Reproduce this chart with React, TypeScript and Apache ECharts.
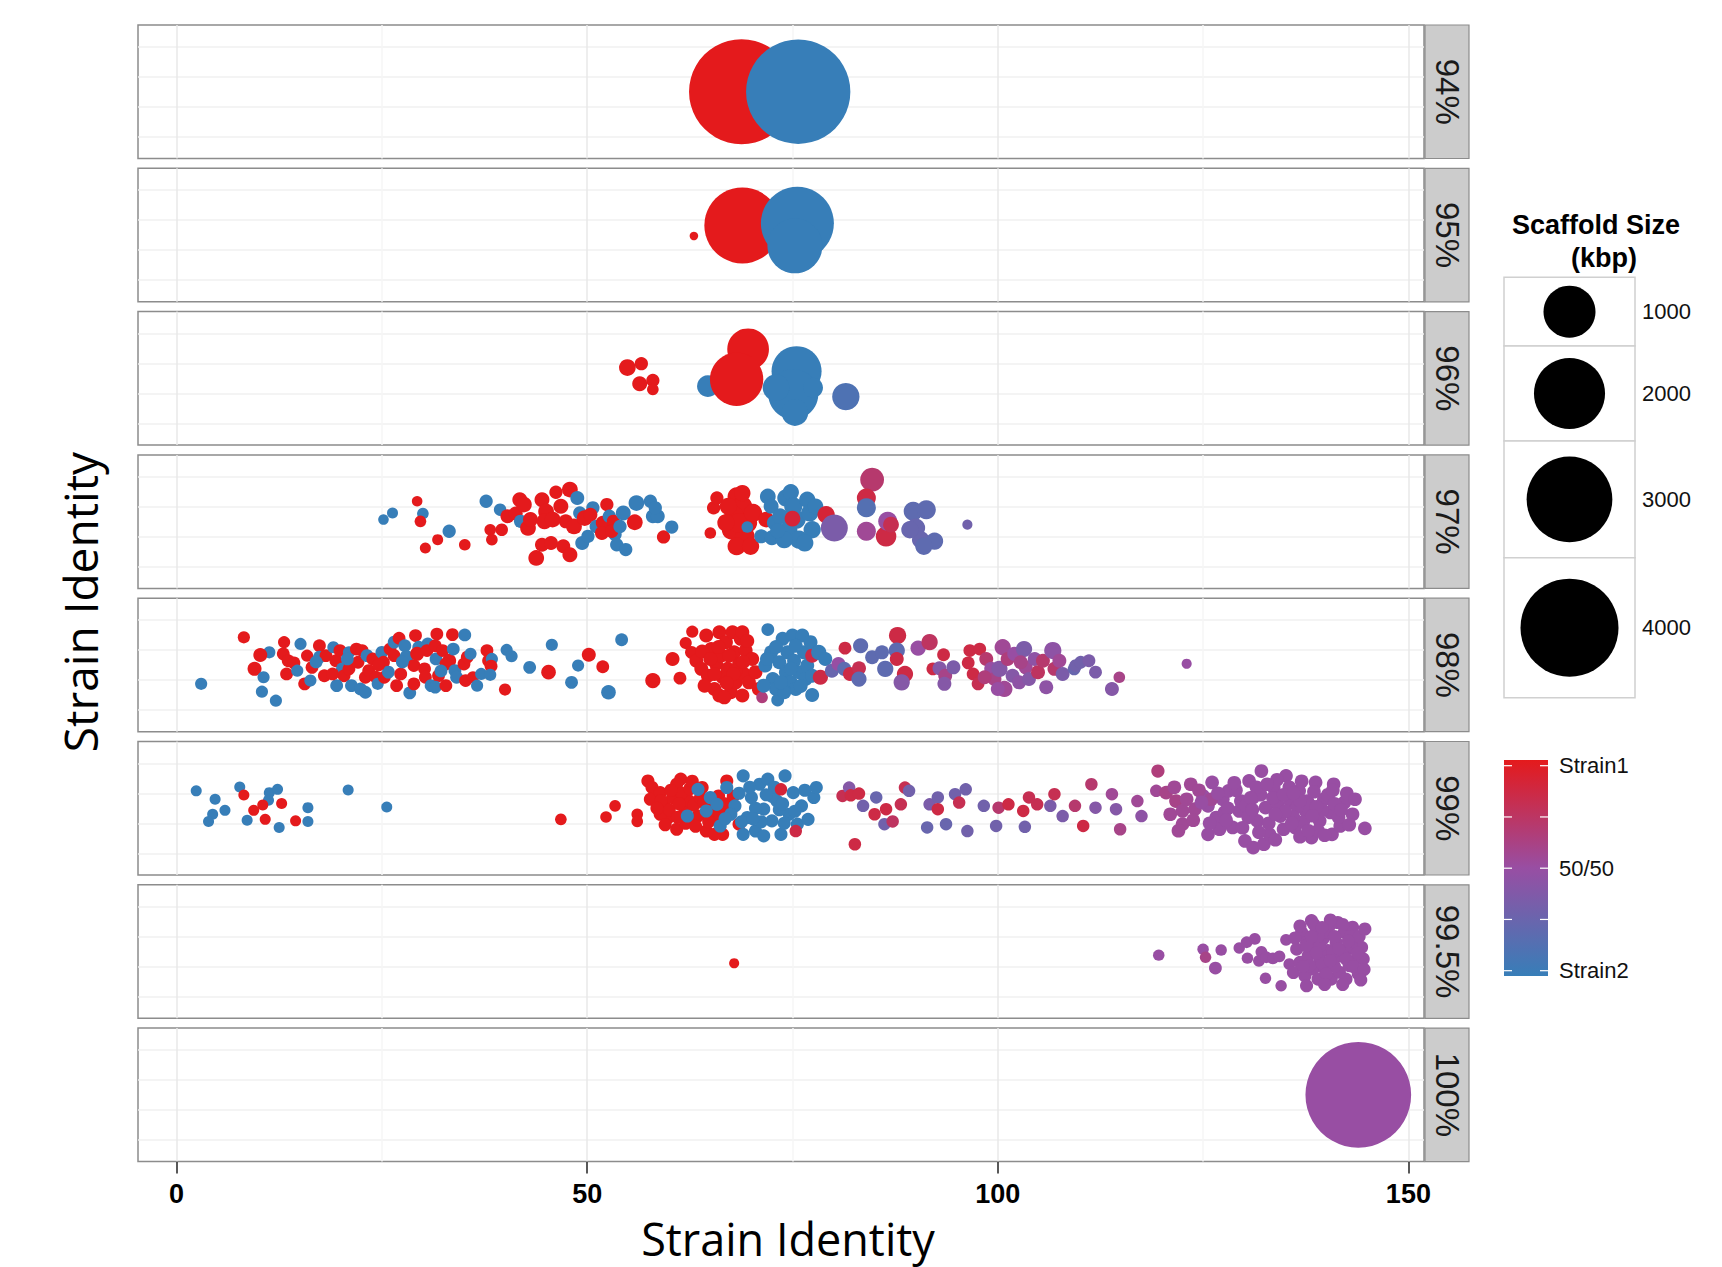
import React, { useEffect, useRef } from 'react';
import * as echarts from 'echarts';

// ---------- data ----------
const panelLabels = ['94%', '95%', '96%', '97%', '98%', '99%', '99.5%', '100%'];
const xTicks = [0, 50, 100, 150];
const xMinorGrid = [25, 75, 125];
const yGridLines = [-1.5, -0.5, 0.5, 1.5];
const sizeBreaks = [1000, 2000, 3000, 4000];
const colorBreaks = [1, 0.75, 0.5, 0.25, 0];
const colorLabels = ['Strain1', '50/50', 'Strain2'];
const colorLabelValues = [1, 0.5, 0];

// each point: [x (strain identity), y (jitter), scaffold size (kbp), share of Strain1 (1 = Strain1, 0 = Strain2)]
const p94 = [[68.8, 0, 4630, 1], [75.7, 0, 4565, 0]];

const p95 = [[63.0, -0.03, 3, 1], [68.9, 0.32, 2315, 1], [75.6, 0.39, 2120, 0], [75.3, -0.36, 1134, 0]];

const p96 = [
  [54.9, 0.36, 54, 1], [56.6, 0.49, 25, 1], [56.4, -0.18, 38, 1], [58.0, -0.07, 25, 1], [58.0, -0.37, 15, 1],
  [64.7, -0.26, 116, 0], [69.6, 0.97, 602, 1], [68.2, -0.03, 1057, 1],
  [75.5, 0.24, 915, 0], [75.1, -0.53, 915, 0], [75.3, -1.14, 202, 0], [73.0, -0.31, 202, 0], [77.5, -0.31, 92, 0],
  [81.5, -0.61, 215, 0.12],
];

const p97 = [
  [25.2, 0.07, 10, 0], [26.3, 0.29, 12, 0], [29.3, 0.68, 10, 1], [30.0, 0.27, 15, 0], [29.7, 0.01, 15, 1], [30.3, -0.88, 12, 1],
  [31.8, -0.6, 12, 1], [33.2, -0.32, 25, 0], [35.1, -0.77, 15, 1], [37.7, 0.68, 25, 0], [38.2, -0.27, 15, 1], [38.4, -0.6, 15, 1],
  [39.6, -0.27, 20, 1], [39.4, 0.4, 20, 0], [40.3, 0.18, 30, 1], [41.3, 0.27, 30, 1], [41.8, 0.73, 38, 1], [42.3, 0.57, 45, 1],
  [41.9, 0.01, 25, 0], [42.8, -0.21, 45, 1], [43.1, 0.07, 38, 1], [43.8, -1.21, 45, 1], [44.5, 0.73, 38, 1], [45.0, 0.34, 45, 1],
  [44.8, 0.01, 45, 1], [44.5, -0.77, 30, 1], [45.6, -0.71, 30, 1], [46.2, 0.98, 25, 1], [46.8, 0.51, 38, 1], [47.1, -0.82, 30, 1],
  [47.9, 1.07, 45, 1], [48.8, 0.79, 30, 0], [47.9, -1.1, 38, 1], [47.4, 0.01, 30, 1], [45.8, 0.07, 45, 1], [48.4, -0.16, 45, 1],
  [49.1, 0.29, 25, 0], [49.7, 0.12, 45, 1], [49.4, -0.71, 30, 0], [50.1, -0.49, 25, 0], [50.7, 0.46, 25, 0], [50.4, 0.23, 30, 1],
  [51.1, -0.16, 25, 0], [51.9, -0.04, 30, 1], [52.4, 0.57, 25, 1], [52.7, 0.18, 25, 0], [53.2, 0.01, 25, 1], [51.8, -0.38, 30, 1],
  [53.4, -0.43, 25, 0], [53.0, -0.32, 25, 1], [53.6, -0.77, 25, 0], [54.7, -0.93, 25, 0], [54.0, -0.16, 25, 0], [54.4, 0.29, 38, 0],
  [55.8, -0.02, 45, 1], [56.0, 0.62, 45, 0], [57.7, 0.68, 25, 0], [58.0, 0.18, 30, 0], [58.6, 0.18, 30, 0], [58.3, 0.46, 25, 0],
  [59.3, -0.51, 25, 1], [60.3, -0.18, 25, 0],
  [65.0, -0.38, 15, 1], [65.4, 0.46, 25, 1], [65.8, 0.79, 25, 1],
  [68.2, 0.84, 70, 1], [68.9, 0.51, 90, 1], [67.9, 0.18, 90, 1], [69.5, -0.04, 90, 1], [67.6, -0.27, 90, 1], [69.2, -0.49, 90, 1],
  [68.2, -0.82, 70, 1], [69.9, -0.82, 60, 1], [68.5, -0.04, 90, 1], [70.2, 0.29, 70, 1], [67.2, 0.51, 60, 1], [66.9, -0.04, 60, 1],
  [68.9, 0.95, 50, 1], [69.5, -0.18, 15, 0], [71.8, 0.07, 45, 1],
  [71.2, -0.49, 30, 0], [72.0, 0.84, 45, 0], [72.4, 0.51, 38, 0], [72.5, -0.54, 38, 0], [72.8, -0.04, 38, 0], [74.2, 0.79, 60, 0],
  [74.8, 0.98, 50, 0], [75.1, 0.51, 70, 0], [75.5, 0.07, 70, 0], [74.5, -0.27, 70, 0], [75.8, -0.6, 70, 0], [76.8, 0.73, 50, 0],
  [77.1, 0.29, 60, 0], [77.4, -0.27, 60, 0], [76.5, -0.71, 60, 0], [77.8, 0.51, 45, 0], [73.5, 0.18, 45, 0], [74.0, -0.6, 60, 0],
  [73.2, -0.3, 38, 0],
  [75.0, 0.1, 45, 0.9], [79.1, 0.23, 60, 0.9], [80.1, -0.21, 208, 0.35], [84.7, 1.4, 150, 0.7], [84.0, 0.79, 80, 0.85],
  [84.0, 0.46, 80, 0.15], [84.0, -0.32, 80, 0.55], [86.4, -0.49, 100, 0.85], [86.6, 0.01, 80, 0.5], [87.0, -0.1, 45, 0.8],
  [89.7, 0.35, 80, 0.2], [91.3, 0.4, 80, 0.2], [90.0, -0.21, 80, 0.25], [90.6, -0.6, 60, 0.25], [92.3, -0.65, 60, 0.2],
  [91.0, -0.82, 60, 0.2], [89.3, -0.27, 60, 0.25], [96.3, -0.1, 8, 0.3],
];

const p98 = [
  [3.0, -0.63, 18, 0], [8.2, 0.92, 18, 1], [11.3, 0.42, 18, 0], [10.2, 0.33, 30, 1], [9.5, -0.13, 30, 1], [10.6, -0.41, 18, 0],
  [10.4, -0.89, 18, 0], [12.1, -1.19, 18, 0], [13.1, 0.76, 18, 1], [13.0, 0.37, 22, 1], [15.1, 0.7, 18, 0], [13.6, 0.14, 22, 1],
  [13.4, -0.3, 22, 1], [14.3, 0.07, 22, 1], [14.7, -0.19, 18, 0], [15.6, -0.63, 22, 1], [15.9, 0.31, 18, 1], [17.4, 0.64, 22, 1],
  [16.3, -0.52, 18, 0], [16.5, -0.08, 22, 1], [17.4, 0.26, 22, 0], [18.0, -0.36, 22, 1], [18.2, 0.31, 22, 1], [19.1, 0.59, 18, 0],
  [19.4, 0.14, 22, 1], [19.9, 0.48, 22, 1], [20.2, -0.13, 22, 0], [20.4, -0.36, 22, 1], [19.5, -0.69, 22, 0], [21.0, 0.42, 18, 0],
  [21.3, -0.69, 22, 0], [21.0, -0.13, 22, 1], [21.9, 0.53, 22, 1], [22.1, 0.09, 22, 1], [22.6, 0.48, 22, 1], [22.4, -0.8, 22, 0],
  [23.0, -0.91, 22, 0], [23.0, -0.41, 22, 1], [23.2, 0.31, 22, 0], [23.9, 0.2, 22, 1], [23.4, -0.19, 22, 1], [24.3, -0.41, 22, 1],
  [24.5, -0.63, 18, 0], [25.0, 0.42, 22, 0], [25.2, 0.09, 22, 1], [25.3, -0.41, 22, 1], [25.8, -0.24, 22, 0], [26.0, 0.53, 22, 1],
  [26.5, 0.31, 22, 1], [26.5, 0.76, 22, 0], [27.1, 0.89, 22, 1], [26.8, -0.69, 22, 1], [27.3, -0.3, 22, 1], [27.8, 0.64, 22, 0],
  [28.0, 0.26, 30, 0], [28.4, -0.93, 22, 0], [28.9, -0.02, 22, 1], [29.1, 0.98, 22, 1], [29.5, 0.59, 22, 0], [29.3, 0.37, 30, 1],
  [28.9, -0.63, 22, 1], [30.2, -0.13, 22, 1], [30.6, 0.7, 22, 0], [30.5, 0.48, 22, 1], [30.3, -0.41, 22, 1], [31.0, -0.69, 22, 0],
  [31.7, 1.03, 22, 1], [31.5, 0.64, 22, 1], [31.6, 0.2, 22, 0], [31.9, -0.36, 22, 1], [31.5, -0.74, 22, 0], [32.4, 0.48, 22, 1],
  [32.8, -0.69, 22, 1], [33.2, 0.14, 30, 1], [33.7, 0.53, 22, 0], [33.6, 1.01, 22, 1], [32.8, 0.03, 22, 1], [33.9, -0.19, 22, 0],
  [34.1, -0.41, 22, 0], [35.0, 0.03, 22, 1], [35.1, 1.0, 22, 0], [35.4, 0.26, 22, 1], [35.2, -0.52, 22, 1], [35.8, 0.37, 18, 0],
  [36.1, -0.41, 18, 1], [36.6, -0.69, 18, 0], [37.8, 0.48, 22, 1], [37.1, -0.3, 18, 0], [38.0, 0.14, 22, 1], [38.4, 0.2, 18, 0],
  [38.3, -0.04, 22, 1], [38.2, -0.33, 18, 0], [40.0, -0.82, 18, 1], [40.2, 0.5, 18, 0], [40.8, 0.29, 18, 0], [43.0, -0.08, 22, 0],
  [45.7, 0.67, 18, 0], [45.3, -0.24, 35, 1], [48.9, -0.02, 18, 0], [48.1, -0.58, 22, 0], [50.2, 0.34, 30, 1], [54.2, 0.84, 22, 0],
  [52.6, -0.91, 35, 0], [51.9, -0.06, 22, 1], [58.0, -0.52, 40, 1],
  [17.0, 0.1, 22, 0], [20.8, 0.2, 22, 0], [24.6, 0.0, 22, 1], [27.5, 0.1, 22, 0], [19.0, -0.3, 22, 1], [32.2, -0.2, 22, 0],
  [61.3, -0.44, 22, 1], [60.4, 0.2, 30, 1], [62.0, 0.73, 18, 1], [62.8, 1.11, 18, 1], [62.7, 0.42, 22, 1],
  [63.3, 0.14, 30, 1], [63.9, -0.13, 30, 1], [64.5, 0.98, 30, 1], [64.7, -0.36, 30, 1], [65.1, 0.53, 30, 1], [65.5, -0.8, 30, 1],
  [65.7, 0.03, 30, 1], [66.1, 1.09, 30, 1], [66.3, 0.31, 30, 1], [66.5, -0.41, 30, 1], [66.9, 0.76, 30, 1], [67.1, -0.13, 30, 1],
  [67.5, -0.91, 30, 1], [67.7, 1.09, 30, 1], [67.9, 0.42, 30, 1], [68.1, -0.58, 30, 1], [68.5, 0.03, 30, 1], [68.7, 0.87, 30, 1],
  [68.9, -1.02, 30, 1], [69.1, -0.3, 30, 1], [69.3, 0.48, 30, 1], [69.7, -0.58, 30, 1], [70.1, 0.2, 30, 1], [70.5, -0.24, 30, 1],
  [70.9, -0.8, 30, 1], [66.1, -1.02, 30, 1], [64.3, -0.69, 30, 1], [67.3, 0.31, 30, 1], [66.7, -1.08, 30, 1], [68.1, -0.19, 30, 1],
  [65.5, -0.3, 30, 1], [68.9, 1.09, 30, 1], [64.0, 0.45, 30, 1], [66.0, 0.6, 30, 1], [67.8, -0.3, 30, 1], [69.5, 0.8, 30, 1],
  [65.0, 0.2, 30, 1], [67.0, -0.6, 30, 1], [69.0, 0.1, 30, 1],
  [72.0, 1.18, 22, 0], [71.3, -1.08, 15, 0.65], [73.2, -1.17, 22, 0], [77.4, -1.0, 30, 0],
  [71.7, -0.02, 30, 0], [72.4, 0.42, 30, 0], [72.6, -0.47, 30, 0], [73.0, -0.8, 30, 0], [73.4, 0.09, 30, 0], [73.8, 0.87, 30, 0],
  [74.2, -0.24, 30, 0], [74.4, 0.42, 30, 0], [74.8, -0.58, 30, 0], [75.0, 0.98, 30, 0], [75.2, 0.14, 30, 0], [75.4, -0.8, 30, 0],
  [75.8, -0.24, 30, 0], [76.2, 0.98, 30, 0], [76.4, 0.42, 30, 0], [76.6, -0.47, 30, 0], [76.8, -0.02, 30, 0], [77.2, 0.76, 30, 0],
  [77.4, -0.36, 30, 0], [74.0, -0.91, 30, 0], [71.5, -0.69, 30, 0], [71.9, 0.2, 30, 0], [73.6, -0.58, 30, 0], [75.4, 0.64, 30, 0],
  [74.8, -0.13, 30, 0], [73.0, 0.6, 30, 0], [76.0, -0.7, 30, 0],
  [77.4, 0.31, 30, 0.85], [78.4, -0.41, 40, 0.85], [78.2, 0.42, 40, 0], [79.0, 0.2, 30, 0], [79.8, -0.19, 30, 0.25],
  [80.6, 0.03, 30, 0.5], [81.3, -0.13, 30, 0.2], [81.4, 0.56, 22, 0.85], [82.0, -0.3, 30, 0.85], [83.1, -0.11, 30, 0.8],
  [83.3, 0.64, 40, 0.2], [83.1, -0.47, 40, 0.2], [84.7, 0.26, 30, 0.2], [85.9, 0.42, 30, 0.2], [86.3, -0.13, 50, 0.2],
  [87.8, 0.98, 60, 0.85], [87.7, 0.48, 50, 0.2], [87.7, 0.2, 30, 0.85], [88.7, -0.3, 50, 0.85], [88.3, -0.58, 50, 0.4],
  [90.3, 0.56, 40, 0.5], [91.7, 0.76, 50, 0.75], [93.4, 0.34, 22, 0.85], [92.1, -0.13, 22, 0.85], [92.9, -0.11, 30, 0.4],
  [93.6, -0.36, 30, 0.6], [94.6, -0.08, 30, 0.35], [93.5, -0.63, 30, 0.4], [96.6, 0.48, 22, 0.85], [97.8, 0.53, 22, 0.85],
  [96.4, 0.07, 22, 0.85], [97.0, -0.3, 22, 0.85], [97.6, -0.63, 22, 0.8],
  [98.6, 0.2, 30, 0.7], [99.2, -0.13, 30, 0.5], [99.6, -0.47, 30, 0.6], [100.2, -0.13, 50, 0.4], [100.6, 0.59, 50, 0.55],
  [100.8, -0.8, 50, 0.55], [101.2, 0.2, 30, 0.65], [101.8, -0.36, 30, 0.4], [102.0, 0.37, 30, 0.5], [102.6, -0.58, 30, 0.45],
  [103.2, 0.53, 50, 0.35], [103.4, -0.08, 30, 0.55], [103.8, -0.47, 30, 0.4], [104.5, 0.2, 30, 0.45], [104.9, -0.24, 30, 0.75],
  [105.5, 0.14, 30, 0.7], [105.9, -0.74, 30, 0.45], [106.7, 0.48, 60, 0.45], [106.9, -0.13, 30, 0.7], [107.5, 0.14, 30, 0.55],
  [107.9, -0.3, 30, 0.35], [100.0, -0.8, 30, 0.5], [102.8, 0.09, 30, 0.6], [98.4, -0.41, 30, 0.65],
  [109.3, -0.13, 22, 0.25], [109.5, -0.02, 22, 0.3], [110.1, 0.09, 22, 0.3], [111.1, 0.14, 22, 0.35], [111.9, -0.24, 22, 0.35],
  [113.9, -0.8, 30, 0.4], [114.8, -0.41, 15, 0.6], [123.0, 0.04, 8, 0.5],
];

const p99 = [
  [2.4, 0.58, 12, 0], [4.7, 0.3, 12, 0], [4.4, -0.2, 12, 0], [3.9, -0.44, 12, 0], [5.9, -0.07, 12, 0], [7.7, 0.71, 12, 0],
  [8.2, 0.44, 12, 1], [11.3, 0.52, 12, 0], [12.3, 0.63, 12, 0], [11.2, 0.27, 12, 0], [10.5, 0.11, 12, 1], [9.4, -0.07, 12, 1],
  [12.8, 0.16, 12, 1], [8.6, -0.4, 12, 0], [10.8, -0.37, 12, 1], [14.5, -0.42, 12, 1], [16.0, -0.44, 12, 0], [16.0, 0.02, 12, 0],
  [12.5, -0.64, 12, 0], [20.9, 0.61, 12, 0], [25.6, 0.04, 12, 0],
  [46.8, -0.37, 15, 1], [52.3, -0.29, 15, 1], [53.4, 0.08, 15, 1], [56.1, -0.2, 15, 1], [56.1, -0.44, 15, 1],
  [57.4, 0.91, 24, 1], [57.9, 0.69, 24, 1], [57.7, 0.3, 24, 1], [58.9, 0.52, 24, 1], [59.4, 0.08, 24, 1], [59.9, -0.31, 24, 1],
  [60.4, 0.36, 24, 1], [60.9, -0.7, 24, 1], [61.4, 0.97, 24, 1], [61.9, -0.09, 24, 1], [62.4, 0.24, 24, 1], [62.9, -0.48, 24, 1],
  [64.0, 0.69, 24, 1], [64.5, -0.76, 24, 1], [65.0, 0.02, 24, 1], [65.5, -0.31, 24, 1], [66.0, 0.41, 24, 1], [66.5, -0.87, 24, 1],
  [67.0, 0.91, 24, 1], [67.5, -0.09, 24, 1], [68.5, -0.53, 24, 1], [65.5, -0.87, 24, 1], [63.5, -0.26, 24, 1], [60.9, 0.8, 24, 1],
  [58.9, -0.2, 24, 1], [60.0, -0.05, 24, 1], [61.5, 0.5, 24, 1], [63.0, 0.1, 24, 1], [62.0, -0.5, 24, 1], [59.0, 0.25, 24, 1],
  [61.0, -0.3, 24, 1], [63.8, 0.35, 24, 1], [64.8, -0.45, 24, 1], [62.5, 0.65, 24, 1], [60.2, 0.6, 24, 1], [66.8, 0.15, 24, 1],
  [58.5, 0.0, 24, 1], [61.2, 0.15, 24, 1], [63.2, -0.6, 24, 1], [64.2, 0.2, 24, 1], [66.2, -0.2, 24, 1], [67.8, 0.4, 24, 1],
  [59.5, -0.55, 24, 1], [62.8, 0.9, 24, 1],
  [62.2, -0.26, 24, 0], [63.5, 0.63, 24, 0], [65.0, 0.36, 24, 0], [66.2, -0.59, 24, 0], [67.0, 0.69, 24, 0], [68.0, 0.08, 24, 0],
  [69.0, 1.08, 24, 0], [69.5, -0.31, 24, 0], [70.0, 0.36, 24, 0], [70.5, -0.76, 24, 0], [71.0, 0.8, 24, 0], [71.5, -0.03, 24, 0],
  [72.0, 0.97, 24, 0], [72.5, -0.42, 24, 0], [73.1, 0.24, 24, 0], [73.6, -0.87, 24, 0], [74.1, 1.08, 24, 0], [74.6, -0.2, 24, 0],
  [75.1, 0.52, 24, 0], [75.6, -0.53, 24, 0], [76.1, 0.08, 24, 0], [76.9, -0.37, 24, 0], [77.6, 0.36, 24, 0], [77.9, 0.69, 24, 0],
  [69.0, -0.87, 24, 0], [71.5, -0.92, 24, 0], [64.5, -0.09, 24, 0], [65.8, 0.13, 24, 0], [68.5, 0.5, 24, 0], [70.5, 0.0, 24, 0],
  [72.5, 0.4, 24, 0], [74.0, -0.5, 24, 0], [67.5, -0.2, 24, 0], [69.8, 0.7, 24, 0], [71.2, -0.45, 24, 0], [73.4, -0.05, 24, 0],
  [68.8, -0.45, 24, 0], [72.8, 0.7, 24, 0], [70.2, -0.35, 24, 0], [71.8, 0.45, 24, 0], [73.8, 0.15, 24, 0], [75.3, -0.1, 24, 0],
  [76.5, 0.6, 24, 0], [66.8, -0.35, 24, 0],
  [75.4, -0.76, 20, 0.85], [73.6, 0.63, 20, 0.9], [82.6, -1.2, 20, 0.85],
  [81.1, 0.41, 20, 0.8], [81.9, 0.69, 20, 0.4], [82.1, 0.43, 20, 0.85], [83.1, 0.49, 20, 0.85], [83.6, 0.08, 20, 0.3],
  [85.0, -0.2, 20, 0.85], [85.2, 0.36, 20, 0.25], [86.2, -0.53, 20, 0.3], [86.4, -0.03, 20, 0.85], [87.2, -0.44, 20, 0.75],
  [88.2, 0.13, 20, 0.8], [88.7, 0.69, 20, 0.8], [89.2, 0.58, 20, 0.3], [91.4, -0.64, 20, 0.25], [91.7, 0.13, 20, 0.35],
  [92.7, 0.36, 20, 0.3], [93.7, -0.53, 20, 0.25], [92.7, -0.03, 20, 0.85], [94.8, 0.47, 20, 0.3], [95.3, 0.19, 20, 0.8],
  [96.1, 0.63, 20, 0.3], [96.3, -0.76, 20, 0.3], [98.3, 0.08, 20, 0.3], [99.8, -0.59, 20, 0.3], [100.1, 0.02, 20, 0.7],
  [101.3, 0.13, 20, 0.85], [103.1, -0.09, 20, 0.85], [103.3, -0.62, 20, 0.3], [103.8, 0.36, 20, 0.8], [104.8, 0.13, 20, 0.8],
  [106.4, 0.08, 20, 0.35], [106.9, 0.47, 20, 0.8], [107.9, -0.26, 20, 0.35], [109.4, 0.08, 20, 0.7], [110.4, -0.59, 20, 0.85],
  [111.4, 0.8, 20, 0.7], [111.9, 0.02, 20, 0.4], [114.4, -0.03, 20, 0.4], [114.9, -0.7, 20, 0.6], [113.9, 0.47, 20, 0.55],
  [117.0, 0.24, 20, 0.55], [117.5, -0.26, 20, 0.45], [119.5, 1.24, 25, 0.65], [119.3, 0.58, 20, 0.55],
  [120.5, 0.52, 28, 0.6], [121.0, -0.2, 28, 0.55], [121.7, 0.24, 28, 0.6], [122.5, -0.53, 28, 0.55], [122.5, -0.09, 28, 0.55],
  [123.5, 0.8, 28, 0.55], [124.0, -0.03, 28, 0.55], [125.0, 0.41, 28, 0.5], [125.6, -0.87, 28, 0.5], [125.6, 0.08, 28, 0.5],
  [126.1, 0.86, 28, 0.5], [126.6, -0.31, 28, 0.5], [127.4, 0.3, 28, 0.5], [127.6, -0.14, 28, 0.5], [128.1, 0.58, 28, 0.5],
  [128.6, -0.64, 28, 0.5], [129.4, -0.09, 28, 0.5], [129.6, 0.24, 28, 0.5], [130.1, -1.09, 28, 0.5], [130.6, 0.91, 28, 0.5],
  [131.1, 0.36, 28, 0.5], [131.1, -1.31, 28, 0.5], [131.6, -0.42, 28, 0.5], [132.1, 1.24, 28, 0.5], [132.4, -1.2, 28, 0.5],
  [132.6, 0.02, 28, 0.5], [133.1, -0.87, 28, 0.5], [133.6, 0.69, 28, 0.5], [134.1, 0.13, 28, 0.5], [134.4, -0.26, 28, 0.5],
  [135.1, 1.08, 28, 0.5], [135.6, 0.24, 28, 0.5], [136.2, -0.64, 28, 0.5], [136.7, 0.58, 28, 0.5], [137.5, -0.09, 28, 0.5],
  [137.7, 0.24, 28, 0.5], [138.2, -0.98, 28, 0.5], [138.7, 0.86, 28, 0.5], [139.2, -0.42, 28, 0.5], [139.7, 0.3, 28, 0.5],
  [140.5, -0.14, 28, 0.5], [140.7, -0.87, 28, 0.5], [140.9, 0.8, 28, 0.5], [141.7, -0.59, 28, 0.5], [142.2, 0.19, 28, 0.5],
  [143.2, -0.2, 28, 0.5], [144.7, -0.67, 28, 0.5],
  [129.0, 0.6, 28, 0.5], [130.5, -0.3, 28, 0.5], [132.0, 0.45, 28, 0.5], [133.0, -0.5, 28, 0.5], [134.8, -0.7, 28, 0.5],
  [135.5, 0.7, 28, 0.5], [136.5, 0.05, 28, 0.5], [137.2, -0.45, 28, 0.5], [138.5, 0.55, 28, 0.5], [139.5, -0.05, 28, 0.5],
  [140.2, 0.45, 28, 0.5], [141.5, -0.3, 28, 0.5], [142.5, 0.5, 28, 0.5], [130.2, 0.1, 28, 0.5], [127.0, -0.7, 28, 0.5],
  [124.5, 0.6, 28, 0.55], [123.0, 0.3, 28, 0.55], [134.0, 0.95, 28, 0.5], [136.0, -0.3, 28, 0.5], [138.0, 0.1, 28, 0.5],
  [131.5, 0.7, 28, 0.5], [133.5, 0.35, 28, 0.5], [135.0, -0.1, 28, 0.5], [137.0, 0.9, 28, 0.5], [139.0, -0.75, 28, 0.5],
  [141.0, 0.15, 28, 0.5], [128.0, 0.0, 28, 0.5], [126.0, 0.3, 28, 0.55], [133.8, -1.05, 28, 0.5], [136.8, -0.95, 28, 0.5],
  [121.5, 0.7, 28, 0.55], [122.0, -0.75, 28, 0.55], [123.8, -0.4, 28, 0.55], [124.8, 0.2, 28, 0.5], [125.8, -0.5, 28, 0.5],
  [126.8, 0.5, 28, 0.5], [127.8, -0.4, 28, 0.5], [128.8, 0.85, 28, 0.5], [129.8, -0.65, 28, 0.5], [130.8, 0.35, 28, 0.5],
  [131.8, -0.8, 28, 0.5], [132.8, 0.8, 28, 0.5], [133.8, -0.2, 28, 0.5], [134.8, 0.45, 28, 0.5], [135.8, -0.5, 28, 0.5],
  [136.8, 0.25, 28, 0.5], [137.8, -0.75, 28, 0.5], [138.8, 0.05, 28, 0.5], [139.8, -0.9, 28, 0.5], [140.8, 0.6, 28, 0.5],
  [141.8, -0.05, 28, 0.5], [142.8, -0.55, 28, 0.5], [143.5, 0.3, 28, 0.5], [131.0, -0.05, 28, 0.5], [136.0, 0.5, 28, 0.5],
  [138.3, -0.25, 28, 0.5],
];

const p995 = [
  [67.9, -0.39, 8, 1], [119.6, -0.12, 14, 0.5], [125.0, 0.08, 14, 0.5], [125.3, -0.19, 14, 0.6], [126.5, -0.55, 22, 0.5],
  [127.2, 0.05, 14, 0.5], [129.4, 0.12, 14, 0.5], [130.3, 0.31, 16, 0.5], [131.3, 0.42, 16, 0.5], [130.4, -0.22, 14, 0.5],
  [132.6, -0.89, 14, 0.5], [134.5, -1.14, 14, 0.5], [132.1, -0.01, 16, 0.5], [131.8, -0.31, 16, 0.5], [132.7, -0.19, 16, 0.5],
  [133.5, -0.23, 16, 0.5], [134.3, -0.16, 16, 0.5], [135.1, 0.39, 16, 0.5], [135.5, -0.42, 16, 0.5],
  [136.4, 0.08, 24, 0.5], [136.8, -0.36, 24, 0.5], [137.0, 0.64, 24, 0.5], [137.4, -0.81, 24, 0.5], [137.6, 0.31, 24, 0.5],
  [137.8, -0.14, 24, 0.5], [138.2, 1.03, 24, 0.5], [138.4, -0.58, 24, 0.5], [138.6, 0.19, 24, 0.5], [138.8, 0.75, 24, 0.5],
  [139.0, -0.92, 24, 0.5], [139.2, -0.25, 24, 0.5], [139.6, 0.42, 24, 0.5], [139.8, -0.58, 24, 0.5], [140.2, 0.03, 24, 0.5],
  [140.4, 0.86, 24, 0.5], [140.6, -0.92, 24, 0.5], [140.8, -0.36, 24, 0.5], [141.2, 0.31, 24, 0.5], [141.4, 0.97, 24, 0.5],
  [141.6, -0.69, 24, 0.5], [141.8, -0.14, 24, 0.5], [142.2, 0.64, 24, 0.5], [142.4, -0.92, 24, 0.5], [142.6, 0.08, 24, 0.5],
  [142.8, -0.47, 24, 0.5], [143.2, 0.81, 24, 0.5], [143.5, 0.31, 24, 0.5], [143.7, -0.25, 24, 0.5], [143.9, -0.75, 24, 0.5],
  [144.3, 0.14, 24, 0.5], [144.5, -0.25, 24, 0.5], [137.6, -1.14, 24, 0.5], [139.2, 0.19, 24, 0.5], [140.8, -0.03, 24, 0.5],
  [142.4, -0.25, 24, 0.5], [138.0, -0.47, 24, 0.5], [140.0, 0.64, 24, 0.5], [143.0, 0.19, 24, 0.5], [137.6, 0.19, 24, 0.5],
  [139.0, 0.5, 24, 0.5], [141.0, 0.5, 24, 0.5], [143.0, 0.5, 24, 0.5], [139.5, -0.4, 24, 0.5], [141.0, -0.5, 24, 0.5],
  [143.3, -0.5, 24, 0.5], [144.0, 0.5, 24, 0.5], [138.5, 0.9, 24, 0.5], [142.0, 0.9, 24, 0.5], [140.0, -0.75, 24, 0.5],
  [136.2, 0.45, 24, 0.5], [136.0, -0.7, 24, 0.5], [144.6, -0.6, 24, 0.5], [144.7, 0.75, 24, 0.5], [140.5, 1.05, 24, 0.5],
  [136.8, 0.85, 24, 0.5], [137.2, -0.5, 24, 0.5], [138.2, 0.5, 24, 0.5], [139.5, 0.8, 24, 0.5], [140.5, -0.3, 24, 0.5],
  [141.5, 0.1, 24, 0.5], [142.7, 0.35, 24, 0.5], [143.8, -0.05, 24, 0.5], [144.2, -0.95, 24, 0.5], [139.8, -1.1, 24, 0.5],
  [142.0, -1.1, 24, 0.5], [138.8, -0.05, 24, 0.5],
];

const p100 = [[143.9, 0, 4695, 0.5]];

const panels = [p94, p95, p96, p97, p98, p99, p995, p100];

// ---------- layout / style ----------
const W = 1722;
const H = 1267;
const PANEL_LEFT = 138;
const PANEL_W = 1286;
const PANEL_TOP = 25;
const PANEL_H = 133.5;
const PANEL_PITCH = 143.3;
const STRIP_W = 44;
const X_MIN = -4.69;
const X_MAX = 151.9;
const Y_MIN = -2.225;
const Y_MAX = 2.225;
const RED = '#E41A1C';
const PURPLE = '#984EA3';
const BLUE = '#377EB8';
const BORDER = '#8c8c8c';
const SANS = 'Liberation Sans, Arial, sans-serif';
const TITLE_FONT = 'Open Sans, sans-serif';

const sizeOf = (kbp: number) => 6 + 1.455 * Math.sqrt(kbp);

// size legend geometry
const LEG_X = 1504;
const LEG_W = 131;
const LEG_TOP = 277.3;
const LEG_ROW_H = [68.7, 95, 116.7, 140];
// colour bar geometry
const CB_X = 1504;
const CB_Y = 760;
const CB_W = 44;
const CB_H = 216;
const CB_TICK_TOP = 765.7;
const CB_TICK_SPAN = 205;

function buildOption() {
  const n = panels.length;
  const grids = panels.map((_, i) => ({
    left: PANEL_LEFT,
    top: PANEL_TOP + PANEL_PITCH * i,
    width: PANEL_W,
    height: PANEL_H,
    show: true,
    backgroundColor: '#ffffff',
    borderColor: BORDER,
    borderWidth: 1.5,
    containLabel: false,
  }));

  const xAxes = panels.map((_, i) => {
    const last = i === n - 1;
    return {
      gridIndex: i,
      type: 'value',
      position: 'bottom',
      min: X_MIN,
      max: X_MAX,
      axisLine: { show: false, onZero: false },
      splitLine: { show: false },
      axisTick: {
        show: last,
        customValues: xTicks,
        length: 12,
        lineStyle: { color: '#222', width: 1.5 },
      },
      axisLabel: {
        show: last,
        customValues: xTicks,
        fontSize: 27,
        fontWeight: 'bold',
        fontFamily: SANS,
        color: '#000',
        margin: 19,
      },
    };
  });

  const yAxes = panels.map((_, i) => ({
    gridIndex: i,
    type: 'value',
    min: Y_MIN,
    max: Y_MAX,
    show: false,
    axisLine: { onZero: false },
    splitLine: { show: false },
  }));

  const dataSeries = panels.map((d, i) => ({
    type: 'scatter',
    xAxisIndex: i,
    yAxisIndex: i,
    data: d,
    symbol: 'circle',
    symbolSize: (v: number[]) => sizeOf(v[2]),
    itemStyle: { opacity: 1 },
    emphasis: { disabled: true },
    silent: true,
    z: 3,
  }));

  const gridSeries = panels.map((_, i) => ({
    type: 'scatter',
    xAxisIndex: i,
    yAxisIndex: i,
    data: [],
    silent: true,
    z: 1,
    markLine: {
      silent: true,
      z: 1,
      symbol: ['none', 'none'],
      label: { show: false },
      animation: false,
      emphasis: { disabled: true },
      data: [
        ...yGridLines.map((v) => ({ yAxis: v, lineStyle: { color: '#F1F1F1', width: 1.5, type: 'solid' } })),
        ...xMinorGrid.map((v) => ({ xAxis: v, lineStyle: { color: '#F6F6F6', width: 1.5, type: 'solid' } })),
        ...xTicks.map((v) => ({ xAxis: v, lineStyle: { color: '#E8E8E8', width: 1.5, type: 'solid' } })),
      ],
    },
  }));

  const graphics: any[] = [];

  // strips
  panelLabels.forEach((lab, i) => {
    const top = PANEL_TOP + PANEL_PITCH * i;
    graphics.push({
      type: 'rect',
      shape: { x: PANEL_LEFT + PANEL_W + 1, y: top, width: STRIP_W, height: PANEL_H },
      style: { fill: '#CCCCCC', stroke: BORDER, lineWidth: 1.2 },
      silent: true,
    });
    graphics.push({
      type: 'text',
      x: PANEL_LEFT + PANEL_W + 1 + STRIP_W / 2,
      y: top + PANEL_H / 2,
      rotation: -Math.PI / 2,
      style: {
        text: lab,
        fontSize: 33,
        fontFamily: SANS,
        fill: '#1a1a1a',
        align: 'center',
        verticalAlign: 'middle',
      },
      silent: true,
    });
  });

  // axis titles
  graphics.push({
    type: 'text',
    x: PANEL_LEFT + PANEL_W / 2 + 7,
    y: 1238,
    style: {
      text: 'Strain Identity',
      fontSize: 45,
      fontFamily: TITLE_FONT,
      fill: '#000',
      align: 'center',
      verticalAlign: 'middle',
    },
    silent: true,
  });
  graphics.push({
    type: 'text',
    x: 80,
    y: 602,
    rotation: Math.PI / 2,
    style: {
      text: 'Strain Identity',
      fontSize: 46,
      fontFamily: TITLE_FONT,
      fill: '#000',
      align: 'center',
      verticalAlign: 'middle',
    },
    silent: true,
  });

  // size legend
  graphics.push({
    type: 'text',
    x: 1596,
    y: 225,
    style: { text: 'Scaffold Size', fontSize: 27, fontWeight: 'bold', fontFamily: SANS, fill: '#000', align: 'center', verticalAlign: 'middle' },
    silent: true,
  });
  graphics.push({
    type: 'text',
    x: 1604,
    y: 258,
    style: { text: '(kbp)', fontSize: 27, fontWeight: 'bold', fontFamily: SANS, fill: '#000', align: 'center', verticalAlign: 'middle' },
    silent: true,
  });
  let rowTop = LEG_TOP;
  sizeBreaks.forEach((s, i) => {
    const h = LEG_ROW_H[i];
    graphics.push({
      type: 'rect',
      shape: { x: LEG_X, y: rowTop, width: LEG_W, height: h },
      style: { fill: '#ffffff', stroke: '#D0D0D0', lineWidth: 1.5 },
      silent: true,
    });
    graphics.push({
      type: 'circle',
      shape: { cx: LEG_X + LEG_W / 2, cy: rowTop + h / 2, r: sizeOf(s) / 2 },
      style: { fill: '#000' },
      silent: true,
    });
    graphics.push({
      type: 'text',
      x: LEG_X + LEG_W + 7,
      y: rowTop + h / 2,
      style: { text: String(s), fontSize: 22, fontFamily: SANS, fill: '#111', align: 'left', verticalAlign: 'middle' },
      silent: true,
    });
    rowTop += h;
  });

  // colour bar
  graphics.push({
    type: 'rect',
    shape: { x: CB_X, y: CB_Y, width: CB_W, height: CB_H },
    style: {
      fill: new echarts.graphic.LinearGradient(0, 0, 0, 1, [
        { offset: 0, color: RED },
        { offset: 0.5, color: PURPLE },
        { offset: 1, color: BLUE },
      ]),
    },
    silent: true,
  });
  colorBreaks.forEach((v) => {
    const y = CB_TICK_TOP + (1 - v) * CB_TICK_SPAN;
    graphics.push({
      type: 'line',
      shape: { x1: CB_X, y1: y, x2: CB_X + 8, y2: y },
      style: { stroke: '#ffffff', lineWidth: 1.2 },
      silent: true,
    });
    graphics.push({
      type: 'line',
      shape: { x1: CB_X + CB_W - 8, y1: y, x2: CB_X + CB_W, y2: y },
      style: { stroke: '#ffffff', lineWidth: 1.2 },
      silent: true,
    });
  });
  colorLabels.forEach((lab, i) => {
    const y = CB_TICK_TOP + (1 - colorLabelValues[i]) * CB_TICK_SPAN;
    graphics.push({
      type: 'text',
      x: CB_X + CB_W + 11,
      y,
      style: { text: lab, fontSize: 22, fontFamily: SANS, fill: '#111', align: 'left', verticalAlign: 'middle' },
      silent: true,
    });
  });

  return {
    animation: false,
    backgroundColor: '#ffffff',
    grid: grids,
    xAxis: xAxes,
    yAxis: yAxes,
    visualMap: {
      type: 'continuous',
      show: false,
      dimension: 3,
      min: 0,
      max: 1,
      seriesIndex: panels.map((_, i) => i),
      inRange: { color: [BLUE, PURPLE, RED] },
    },
    series: [...dataSeries, ...gridSeries],
    graphic: graphics,
  };
}

export default function App() {
  const ref = useRef<HTMLDivElement>(null);
  useEffect(() => {
    if (!ref.current) return;
    const chart = echarts.init(ref.current, undefined, { renderer: 'svg', width: W, height: H });
    chart.setOption(buildOption() as any);
    return () => chart.dispose();
  }, []);
  return (
    <div
      ref={ref}
      style={{ position: 'absolute', left: 0, top: 0, width: W, height: H, background: '#fff' }}
    />
  );
}
